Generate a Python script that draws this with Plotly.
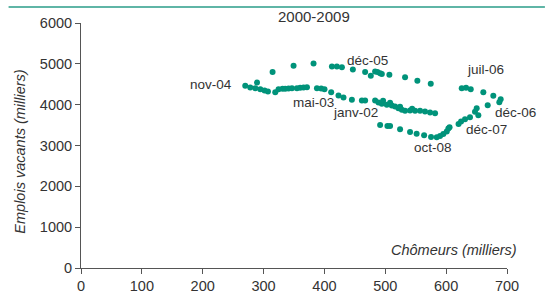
import plotly.graph_objects as go

# Chômeurs (milliers) / Emplois vacants (milliers)
chomeurs = [
    269.9, 278.1, 289.2, 286.4, 294.6, 301.6, 307.2, 319.2, 324.6, 331.2,
    335.6, 341.1, 346.6, 354.8, 360.2, 365.7, 371.3, 387.7, 394.7, 400.1,
    411.1, 423.1, 431.3, 445.1, 461.5, 466.9, 483.3, 488.8, 494.3, 496.4,
    502.5, 507.9, 510.7, 516.1, 521.6, 524.3, 527.2, 532.5, 540.7, 544.1,
    548.9, 557.1, 565.3, 573.6, 581.8,
    314.8, 349.3, 382.1, 412.3, 420.5, 428.7, 446.7, 466.9, 476.2, 483.3,
    487.1, 491.5, 494.3, 506.7, 532.5, 552.7, 574.7,
    625.6, 632.7, 640.4, 661.1, 677.5, 689.6, 687.4, 668.3, 650.2, 647.4,
    652.9, 639.2, 631.0, 624.5, 620.4, 605.6, 603.7, 601.0, 595.4, 590.0,
    584.6,
    491.5, 503.5, 507.9, 524.3, 540.7, 551.5, 563.8, 575.2,
]
emplois = [
    4461, 4419, 4542, 4404, 4380, 4346, 4321, 4306, 4380, 4387,
    4387, 4395, 4404, 4404, 4412, 4419, 4429, 4404, 4395, 4380,
    4306, 4223, 4174, 4118, 4100, 4100, 4100, 4051, 4020, 4093,
    3995, 4044, 3978, 3953, 3914, 3946, 3873, 3848, 3855, 3897,
    3848, 3848, 3831, 3806, 3792,
    4797, 4951, 5007, 4934, 4934, 4919, 4860, 4797, 4706, 4811,
    4797, 4772, 4748, 4730, 4674, 4583, 4510,
    4404, 4412, 4380, 4306, 4216, 4135, 4061, 3983, 3914, 3824,
    3738, 3689, 3645, 3586, 3529, 3449, 3419, 3341, 3284, 3235,
    3199,
    3505, 3480, 3480, 3395, 3333, 3289, 3248, 3206,
]

label_texts = ["nov-04", "déc-05", "mai-03", "janv-02", "juil-06", "déc-06", "déc-07", "oct-08"]
label_px = [0.3060, 0.6717, 0.5451, 0.6436, 0.9484, 1.0188, 0.9508, 0.8265]
label_py = [0.7510, 0.8449, 0.6735, 0.6327, 0.8122, 0.6367, 0.5633, 0.4898]

x_ticks = [0, 100, 200, 300, 400, 500, 600, 700]
y_ticks = [0, 1000, 2000, 3000, 4000, 5000, 6000]

title_text = "2000-2009"
x_title = "Chômeurs (milliers)"
y_title = "Emplois vacants (milliers)"

FONT = "Liberation Sans, Arial, sans-serif"
TEAL = "#00937A"
AXIS = "#555555"
TXT = "#333333"

fig = go.Figure()
fig.add_trace(go.Scatter(
    x=chomeurs, y=emplois, mode="markers",
    marker=dict(color=TEAL, size=6, line=dict(width=0)),
    hoverinfo="skip", showlegend=False, cliponaxis=False,
))

for t, lx, ly in zip(label_texts, label_px, label_py):
    fig.add_annotation(x=lx, y=ly, xref="paper", yref="paper", text=t, showarrow=False,
                       xanchor="center", yanchor="middle",
                       font=dict(family=FONT, size=13.5, color=TXT))

fig.add_annotation(x=0.5475, y=1.0245, xref="paper", yref="paper", text=title_text,
                   showarrow=False, xanchor="center", yanchor="middle",
                   font=dict(family=FONT, size=15, color=TXT))
fig.add_annotation(x=1.028, y=0.0735, xref="paper", yref="paper", text="<i>" + x_title + "</i>",
                   showarrow=False, xanchor="right", yanchor="middle",
                   font=dict(family=FONT, size=14.5, color=TXT))
fig.add_annotation(x=-0.1419, y=0.473, xref="paper", yref="paper", text="<i>" + y_title + "</i>",
                   showarrow=False, xanchor="center", yanchor="middle", textangle=-90,
                   font=dict(family=FONT, size=14.5, color=TXT))

fig.add_shape(type="line", xref="paper", yref="paper", x0=-0.170, x1=1.089,
              y0=1.0653, y1=1.0653, line=dict(color="#2A9D88", width=1.5))

fig.update_layout(
    template="none",
    width=552, height=297,
    margin=dict(l=80.5, r=45, t=23, b=29, autoexpand=False),
    paper_bgcolor="white", plot_bgcolor="white",
    font=dict(family=FONT, size=14, color=TXT),
    xaxis=dict(range=[0, 700], tickvals=x_ticks, showgrid=False, zeroline=False,
               showline=True, linecolor=AXIS, linewidth=1, ticks="outside",
               ticklen=5, tickcolor=AXIS, tickfont=dict(family=FONT, size=14.5, color=TXT),
               automargin=False, fixedrange=True),
    yaxis=dict(range=[0, 6000], tickvals=y_ticks, showgrid=False, zeroline=False,
               showline=True, linecolor=AXIS, linewidth=1, ticks="outside",
               ticklen=5, tickcolor=AXIS, tickfont=dict(family=FONT, size=14.5, color=TXT),
               automargin=False, fixedrange=True),
)

fig.write_html("out.html", config={"displayModeBar": False},
               post_script="document.body.style.margin='0';")
